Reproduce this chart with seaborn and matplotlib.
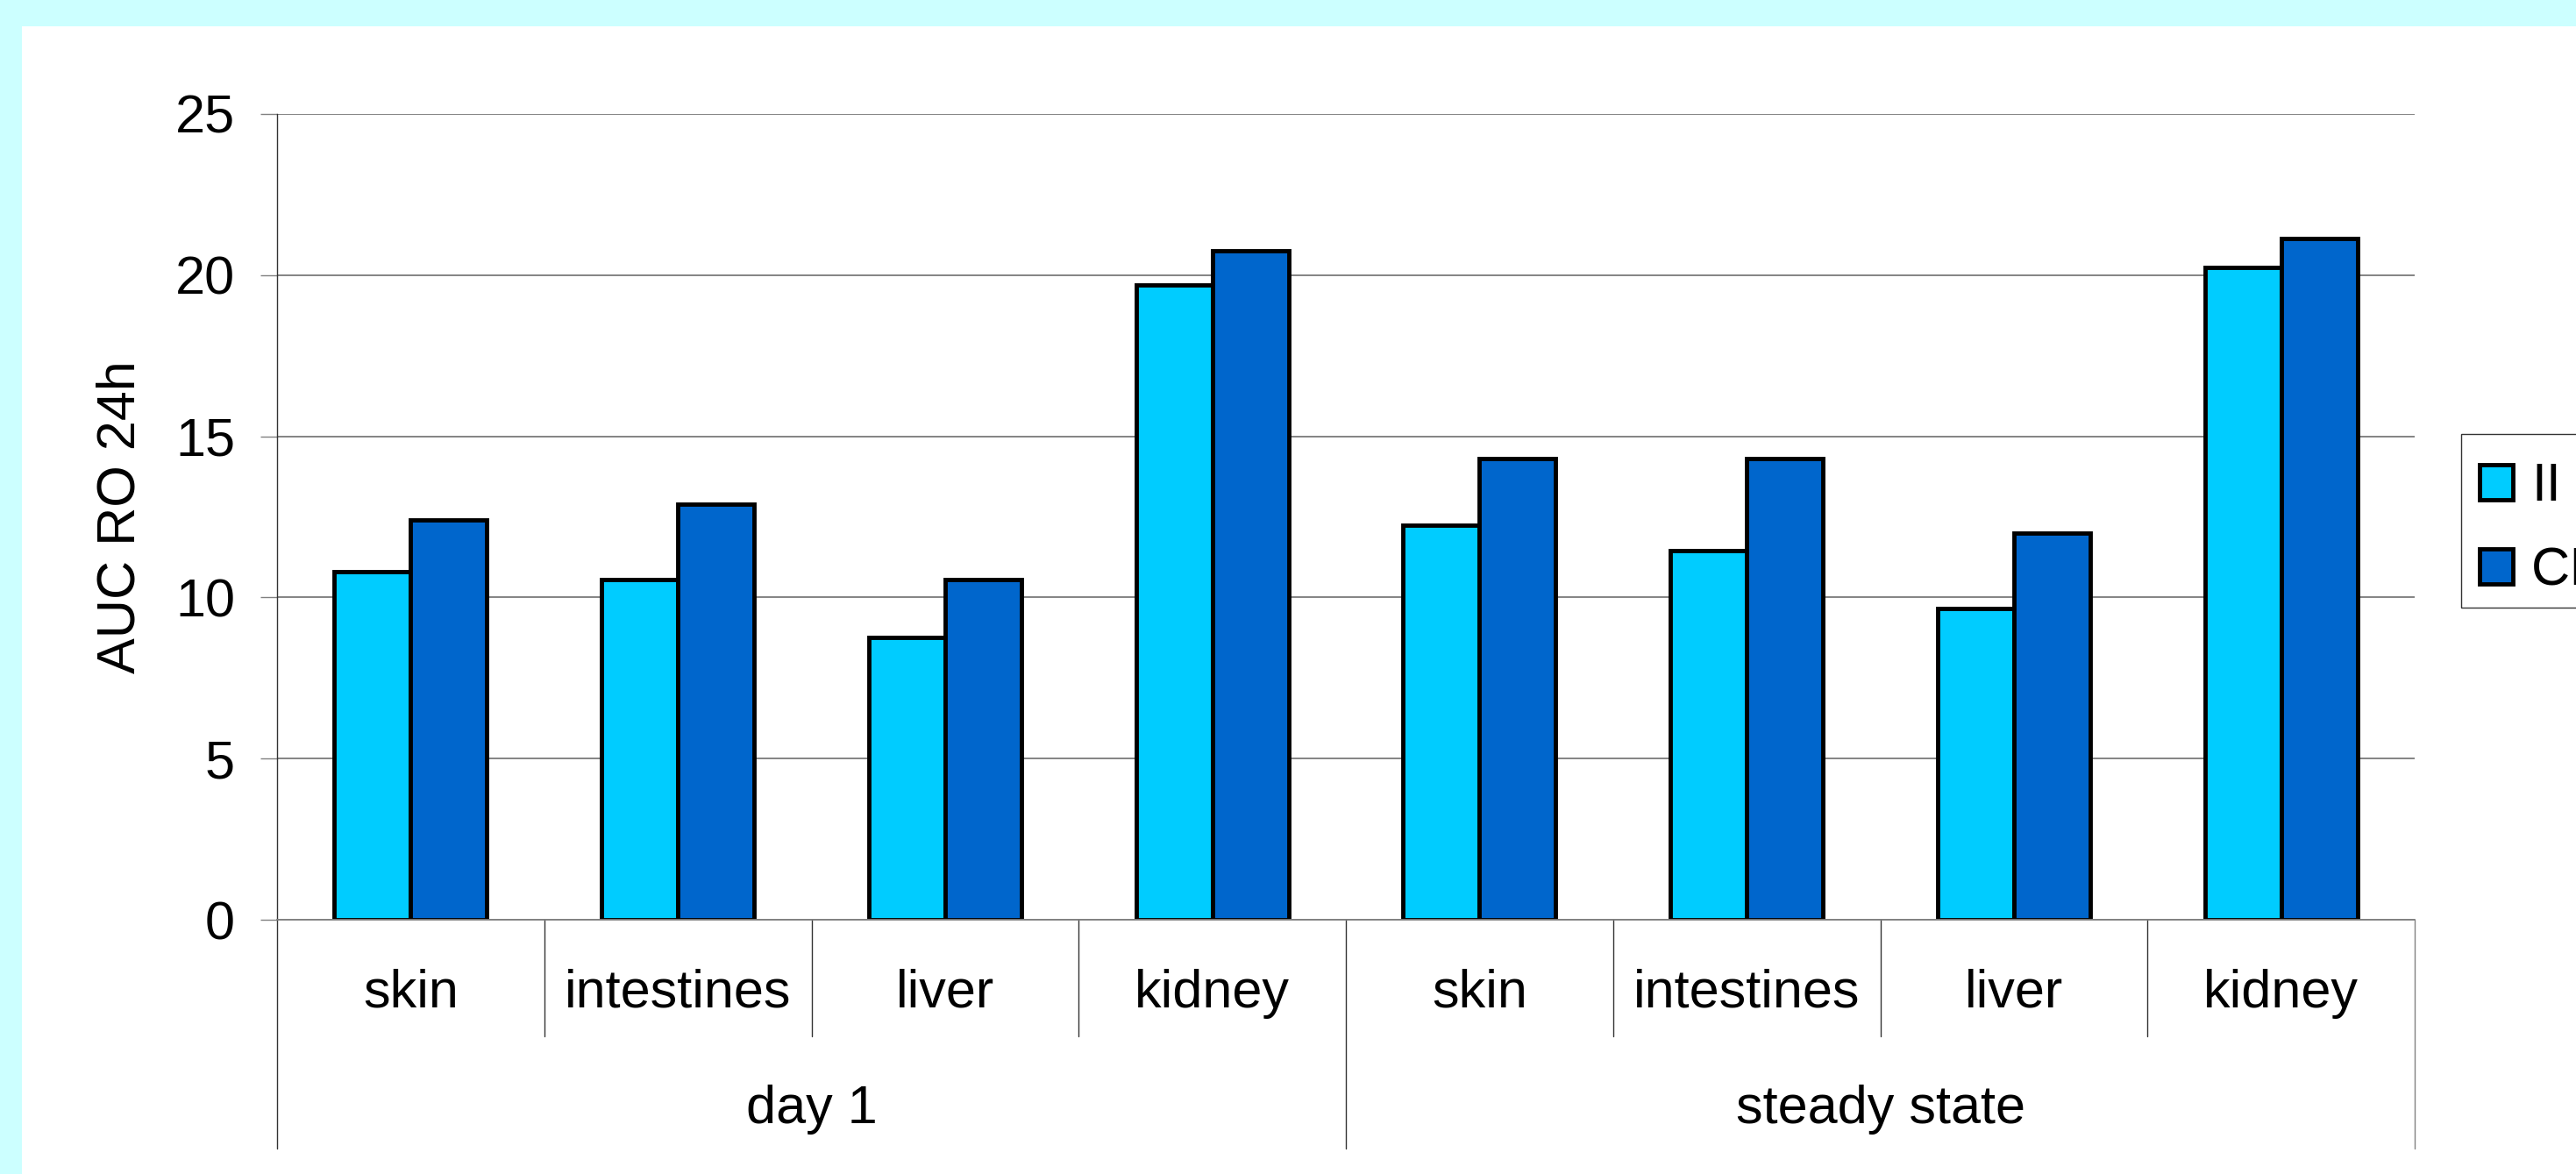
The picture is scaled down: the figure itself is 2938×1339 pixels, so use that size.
import pandas as pd
import seaborn as sns
import matplotlib.pyplot as plt
from matplotlib.patches import Rectangle

# ---------------------
# data
# ---------------------
groups = ['day 1', 'steady state']
tissues = ['skin', 'intestines', 'liver', 'kidney']
series = ['II', 'CI']
ii_values = [10.8, 10.55, 8.75, 19.7, 12.25, 11.45, 9.65, 20.25]
ci_values = [12.4, 12.9, 10.55, 20.75, 14.3, 14.3, 12.0, 21.15]
y_ticks = [0, 5, 10, 15, 20, 25]
colors = {'II': '#00CCFF', 'CI': '#0066CC'}

keys = [g + ' / ' + t for g in groups for t in tissues]
df = pd.DataFrame({
    'key': keys * 2,
    'series': ['II'] * 8 + ['CI'] * 8,
    'value': ii_values + ci_values,
})

sns.set_style('white')
plt.rcParams['font.family'] = ['Liberation Sans', 'DejaVu Sans']
plt.rcParams['text.color'] = 'black'
plt.rcParams['axes.labelcolor'] = 'black'
plt.rcParams['ytick.labelcolor'] = 'black'
FS = 44

W, H = 2938, 1339
fig = plt.figure(figsize=(W / 100, H / 100), dpi=100)
fig.patch.set_facecolor('#CCFFFF')
fig.add_artist(Rectangle((25 / W, 0), 1, 1 - 30 / H, transform=fig.transFigure,
                         facecolor='white', edgecolor='none', zorder=0))

x0, x1 = 316 / W, 2754 / W
y0, y1 = 1 - 1049 / H, 1 - 130 / H
ax = fig.add_axes([x0, y0, x1 - x0, y1 - y0])
ax.set_facecolor('white')

sns.barplot(data=df, x='key', y='value', hue='series', order=keys,
            hue_order=series, palette=colors, width=0.571, gap=0,
            edgecolor='black', linewidth=3.5, saturation=1, ax=ax)

ax.set_xlim(-0.5, len(keys) - 0.5)
ax.set_ylim(0, 25)
ax.set_yticks(y_ticks)
ax.set_yticklabels([str(v) for v in y_ticks], fontsize=FS)
ax.tick_params(axis='y', direction='out', length=13.5, width=1, color='#808080',
               pad=21, left=True, labelcolor='black')
ax.set_xticks([])
ax.set_xlabel('')
ax.set_ylabel('AUC RO 24h', fontsize=FS, labelpad=24, color='black')
ax.yaxis.grid(True, color='#7a7a7a', linewidth=1.3)
ax.set_axisbelow(True)
for s in ['top', 'right']:
    ax.spines[s].set_visible(False)
ax.spines['left'].set_color('#333333')
ax.spines['left'].set_linewidth(1)
ax.spines['bottom'].set_color('#808080')
ax.spines['bottom'].set_linewidth(1.3)

# two-level category axis
axis_h = 1049 - 130
tr = ax.get_xaxis_transform()
for i, k in enumerate(keys):
    ax.text(i, -(1133 - 1049) / axis_h, k.split(' / ')[1], transform=tr,
            ha='center', va='center', fontsize=FS, color='black')
for i in range(len(keys) + 1):
    xb = i - 0.5
    long_tick = i % len(tissues) == 0
    y_end = -(1310 - 1049) / axis_h if long_tick else -(1182 - 1049) / axis_h
    ax.plot([xb, xb], [0, y_end], transform=tr, clip_on=False,
            color='#808080' if i == len(keys) else '#333333', linewidth=1)
for j, g in enumerate(groups):
    xc = j * len(tissues) + (len(tissues) - 1) / 2
    ax.text(xc, -(1265 - 1049) / axis_h, g, transform=tr,
            ha='center', va='center', fontsize=FS, color='black')

# legend: entries from the bars, frame drawn separately (runs off the right edge)
handles, labels = ax.get_legend_handles_labels()
ax.legend_.remove()
fig.legend(handles, labels, loc='center left',
           bbox_to_anchor=(2828 / W, 1 - 604 / H), borderaxespad=0,
           fontsize=FS, frameon=False, borderpad=0,
           handlelength=0.62, handleheight=0.62, handletextpad=0.35,
           labelspacing=0.64)
fig.add_artist(Rectangle((2807 / W, 1 - 693 / H), 200 / W, 198 / H,
                         transform=fig.transFigure, facecolor='none',
                         edgecolor='#333333', linewidth=1, zorder=3))

plt.savefig('out.png', dpi=100, facecolor=fig.get_facecolor())
